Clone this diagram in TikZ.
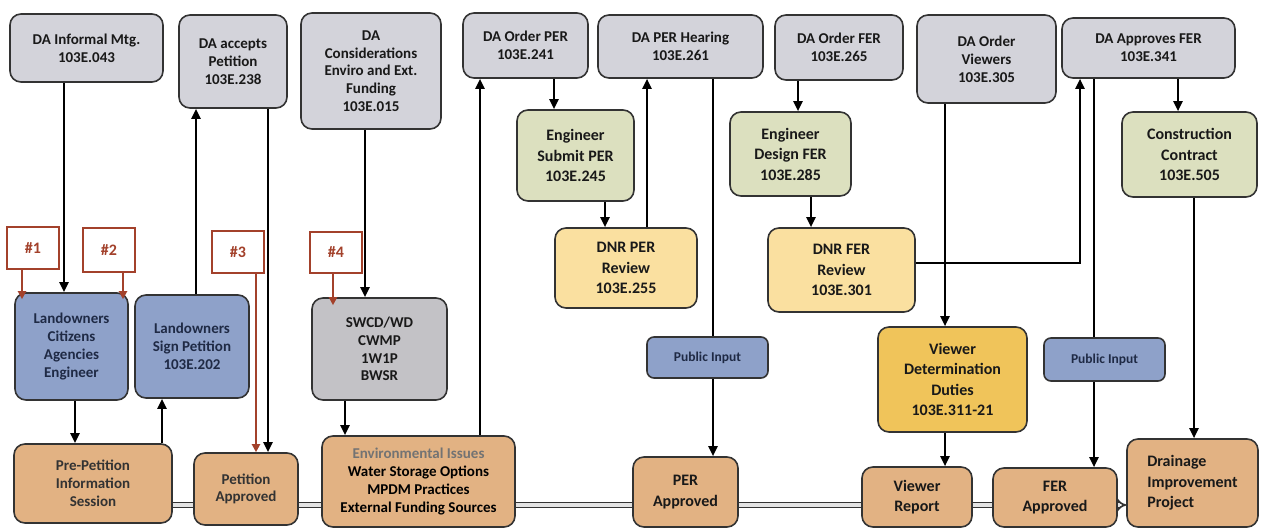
\documentclass[tikz,border=0pt]{standalone}
\usepackage{fontspec}
\setmainfont{Carlito}
\usetikzlibrary{arrows.meta}
\definecolor{grayfill}{HTML}{D3D3DA}
\definecolor{greenfill}{HTML}{DCE0BF}
\definecolor{yelfill}{HTML}{FAE0A0}
\definecolor{goldfill}{HTML}{F0C45A}
\definecolor{bluefill}{HTML}{8EA1C9}
\definecolor{swcdfill}{HTML}{C3C2C6}
\definecolor{orfill}{HTML}{E2B283}
\definecolor{redline}{HTML}{A3412B}
\definecolor{edgecol}{HTML}{333333}
\definecolor{navytext}{HTML}{1F2A45}
\tikzset{
  box/.style={draw=edgecol, line width=1.6pt, rounded corners=11pt, align=center, inner sep=1pt,
    text=black!90, font=\bfseries\fontsize{15}{17.8}\selectfont},
  bigtext/.style={font=\bfseries\fontsize{16}{20.5}\selectfont},
  graybox/.style={box, fill=grayfill},
  greenbox/.style={box, bigtext, fill=greenfill},
  yelbox/.style={box, bigtext, fill=yelfill},
  goldbox/.style={box, bigtext, fill=goldfill},
  bluebox/.style={box, fill=bluefill, text=navytext},
  pubbox/.style={box, fill=bluefill, text=navytext, rounded corners=7pt, font=\bfseries\fontsize{13.5}{16}\selectfont},
  swbox/.style={box, fill=swcdfill},
  orbox/.style={box, fill=orfill, text=black!80},
  orbig/.style={box, bigtext, fill=orfill},
  tagbox/.style={draw=redline, line width=1.8pt, fill=white, text=redline, inner sep=1pt,
    font=\bfseries\fontsize{16}{18}\selectfont},
  arr/.style={line width=2.2pt, -{Triangle[length=10pt,width=9pt]}},
  plain/.style={line width=2.2pt},
  redarr/.style={draw=redline, line width=2pt, -{Triangle[length=8pt,width=8pt]}},
  road/.style={draw=gray!40!black, double=gray!22, double distance=3.4pt, line width=1.7pt}
}
\newcommand\bx[7]{\node[#2, minimum width={#5-#3}, minimum height={#6-#4}] (#1) at ({(#3+#5)/2},{(#4+#6)/2}) {#7};}
\begin{document}
\begin{tikzpicture}[x=1pt,y=-1pt]
\useasboundingbox (0,0) rectangle (1262,529);
% top gray
\bx{im}{graybox}{10}{14}{163}{82}{DA Informal Mtg.\\103E.043}
\bx{dap}{graybox}{179}{15}{287}{108}{DA accepts\\Petition\\103E.238}
\bx{dc}{graybox}{301}{13}{441}{129}{DA\\Considerations\\Enviro and Ext.\\Funding\\103E.015}
\bx{dop}{graybox}{463}{13}{588}{78}{DA Order PER\\103E.241}
\bx{dph}{graybox}{598}{15}{763}{78}{DA PER Hearing\\103E.261}
\bx{dof}{graybox}{775}{15}{903}{80}{DA Order FER\\103E.265}
\bx{dov}{graybox}{917}{15}{1056}{103}{DA Order\\Viewers\\103E.305}
\bx{daf}{graybox}{1062}{18}{1235}{78}{DA Approves FER\\103E.341}
% green
\bx{esp}{greenbox}{517}{110}{634}{201}{Engineer\\Submit PER\\103E.245}
\bx{edf}{greenbox}{730}{112}{851}{196}{Engineer\\Design FER\\103E.285}
\bx{cc}{greenbox}{1122}{112}{1257}{197}{Construction\\Contract\\103E.505}
% yellow
\bx{dpr}{yelbox}{555}{228}{697}{308}{DNR PER\\Review\\103E.255}
\bx{dfr}{yelbox}{768}{228}{915}{312}{DNR FER\\Review\\103E.301}
\bx{vdd}{goldbox}{878}{327}{1027}{432}{Viewer\\Determination\\Duties\\103E.311-21}
% blue
\bx{lc}{bluebox}{15}{293}{128}{400}{Landowners\\Citizens\\Agencies\\Engineer}
\bx{ls}{bluebox}{135}{295}{249}{398}{Landowners\\Sign Petition\\103E.202}
\bx{pi1}{pubbox}{647}{337}{768}{378}{Public Input}
\bx{pi2}{pubbox}{1044}{338}{1165}{381}{Public Input}
\bx{sw}{swbox}{312}{298}{447}{400}{SWCD/WD\\CWMP\\1W1P\\BWSR}
% tags
\bx{t1}{tagbox}{7}{227}{59}{269}{\#1}
\bx{t2}{tagbox}{83}{228}{135}{272}{\#2}
\bx{t3}{tagbox}{212}{231}{264}{273}{\#3}
\bx{t4}{tagbox}{310}{232}{362}{273}{\#4}
% orange
\bx{pp}{orbox}{14}{444}{172}{523}{Pre-Petition\\Information\\Session}
\bx{pa}{orbox}{194}{453}{298}{525}{Petition\\Approved}
\bx{env}{orbox}{322}{436}{515}{527}{{\color{black!55}Environmental Issues}\\\color{black}Water Storage Options\\\color{black}MPDM Practices\\\color{black}External Funding Sources}
\bx{pera}{orbig}{633}{457}{738}{527}{PER\\Approved}
\bx{vr}{orbig}{862}{467}{972}{527}{Viewer\\Report}
\bx{fa}{orbig}{993}{468}{1117}{527}{FER\\Approved}
\node[box, bigtext, fill=orfill, align=left, minimum width=131, minimum height=88] (dip) at (1192.5,483) {Drainage\\Improvement\\Project};
% road
\draw[road] (pp.east |- 0,505) -- (pa.west |- 0,505);
\draw[road] (pa.east |- 0,505) -- (env.west |- 0,505);
\draw[road] (env.east |- 0,505) -- (pera.west |- 0,505);
\draw[road] (pera.east |- 0,505) -- (vr.west |- 0,505);
\draw[road] (vr.east |- 0,505) -- (fa.west |- 0,505);
\draw[road, -{Implies}] (fa.east |- 0,505) -- (dip.west |- 0,505);
% connectors
\draw[arr] (im.south -| 64,0) -- (lc.north -| 64,0);
\draw[arr] (lc.south -| 75,0) -- (pp.north -| 75,0);
\draw[arr] (pp.north -| 162,0) -- (ls.south -| 162,0);
\draw[arr] (ls.north -| 196,0) -- (dap.south -| 196,0);
\draw[arr] (dap.south -| 268,0) -- (pa.north -| 268,0);
\draw[redarr] (t3.south -| 256,0) -- (pa.north -| 256,0);
\draw[redarr] (t1.south -| 22,0) -- ([yshift=-7pt]lc.north -| 22,0);
\draw[redarr] (t2.south -| 123,0) -- ([yshift=-7pt]lc.north -| 123,0);
\draw[redarr] (t4.south -| 333,0) -- ([yshift=-8pt]sw.north -| 333,0);
\draw[arr] (dc.south -| 365,0) -- (sw.north -| 365,0);
\draw[arr] (sw.south -| 345,0) -- (env.north -| 345,0);
\draw[arr] (env.north -| 480,0) -- (dop.south -| 480,0);
\draw[arr] (dop.south -| 554,0) -- (esp.north -| 554,0);
\draw[arr] (esp.south -| 605,0) -- (dpr.north -| 605,0);
\draw[arr] (dpr.north -| 647,0) -- (dph.south -| 647,0);
\draw[plain] (dph.south -| 713,0) -- (pi1.north -| 713,0);
\draw[arr] (pi1.south -| 713,0) -- (pera.north -| 713,0);
\draw[arr] (dof.south -| 798,0) -- (edf.north -| 798,0);
\draw[arr] (edf.south -| 811,0) -- (dfr.north -| 811,0);
\draw[arr] (dov.south -| 945,0) -- (vdd.north -| 945,0);
\draw[arr] (vdd.south -| 945,0) -- (vr.north -| 945,0);
\draw[arr] (dfr.east |- 0,263) -| (daf.south -| 1080,0);
\draw[plain] (daf.south -| 1094,0) -- (pi2.north -| 1094,0);
\draw[arr] (pi2.south -| 1094,0) -- (fa.north -| 1094,0);
\draw[arr] (daf.south -| 1178,0) -- (cc.north -| 1178,0);
\draw[arr] (cc.south -| 1194,0) -- (dip.north -| 1194,0);
\end{tikzpicture}
\end{document}
